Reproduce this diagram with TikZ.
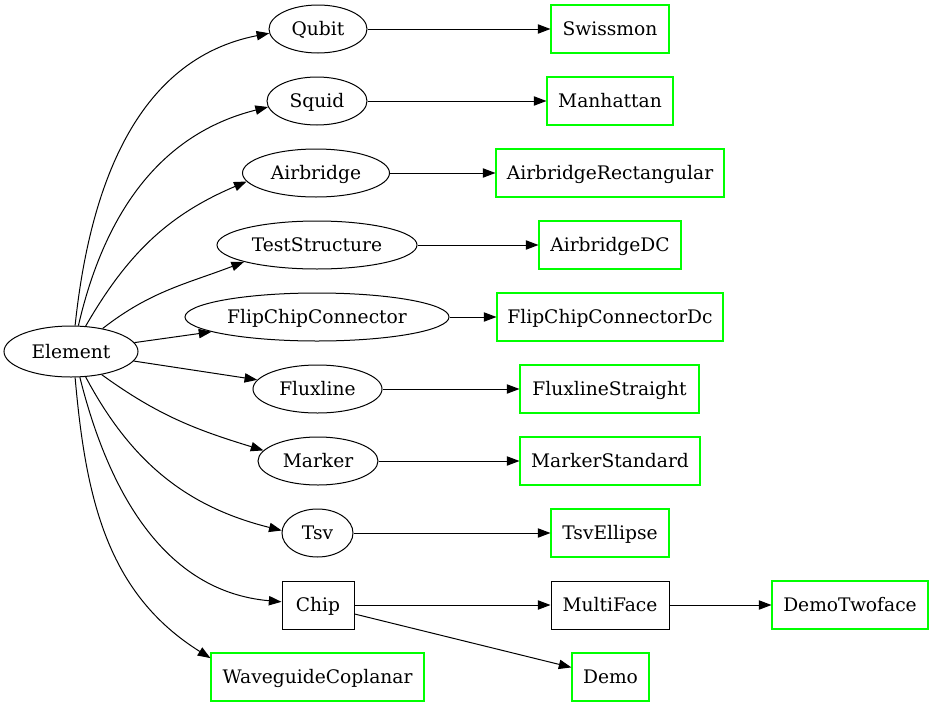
\documentclass[tikz,border=0pt]{standalone}
\usepackage{fontspec}
\setmainfont{DejaVu Serif}
\usetikzlibrary{shapes.geometric, arrows.meta}

\begin{document}
\begin{tikzpicture}[x=0.75pt, y=-0.75pt,
    every node/.style={font=\fontsize{14}{16}\selectfont, text height=11.5pt, text depth=1.5pt, inner sep=0pt},
    elem/.style={ellipse, draw, line width=0.75pt, minimum height=36pt},
    box/.style={rectangle, draw, line width=0.75pt, minimum height=36pt},
    leaf/.style={box, draw=green, line width=0.8pt},
    edge/.style={line width=0.75pt, -{Triangle[length=9.5pt, width=7pt]}}]
    \useasboundingbox (0,0) rectangle (932,707);

    % Root
    \node[elem, minimum width=100.5pt, minimum height=38.25pt] (el) at (71,351.5) {Element};

    % Abstract classes
    \node[elem, minimum width=73.5pt] (qb) at (318,29) {Qubit};
    \node[elem, minimum width=75pt] (sq) at (317,101) {Squid};
    \node[elem, minimum width=110.25pt] (ab) at (316,173) {Airbridge};
    \node[elem, minimum width=150pt] (ts) at (317,245) {TestStructure};
    \node[elem, minimum width=198pt] (fcc) at (317,317) {FlipChipConnector};
    \node[elem, minimum width=96.75pt] (fl) at (317.5,389) {Fluxline};
    \node[elem, minimum width=90pt] (mk) at (318,461) {Marker};
    \node[elem, minimum width=53.25pt] (tsv) at (317.5,533) {Tsv};
    \node[box, minimum width=54pt] (chip) at (318,605) {Chip};
    \node[leaf, minimum width=159.75pt] (wg) at (317.5,677) {WaveguideCoplanar};

    % Concrete elements
    \node[leaf, minimum width=88.5pt] (sw) at (610,29) {Swissmon};
    \node[leaf, minimum width=94.5pt] (mh) at (610,101) {Manhattan};
    \node[leaf, minimum width=171pt] (abr) at (610,173) {AirbridgeRectangular};
    \node[leaf, minimum width=106.5pt] (abdc) at (610,245) {AirbridgeDC};
    \node[leaf, minimum width=169.5pt] (fccd) at (610,317) {FlipChipConnectorDc};
    \node[leaf, minimum width=134.25pt] (fls) at (609.5,389) {FluxlineStraight};
    \node[leaf, minimum width=135pt] (mks) at (610,461) {MarkerStandard};
    \node[leaf, minimum width=88.5pt] (tsve) at (610,533) {TsvEllipse};
    \node[box, minimum width=88.5pt] (mf) at (610,605) {MultiFace};
    \node[leaf, minimum width=57.75pt] (demo) at (610.5,677) {Demo};
    \node[leaf, minimum width=117pt] (dtf) at (850,605) {DemoTwoface};

    % Element to subclasses
    \draw[edge] (el.81) to[out=84, in=191] (qb.185);
    \draw[edge] (el.74) to[out=77, in=194] (sq.187);
    \draw[edge] (el.60) to[out=60, in=203] (ab.187);
    \draw[edge] (el.36) to[out=38, in=201] (ts.193);
    \draw[edge] (el) -- (fcc);
    \draw[edge] (el) -- (fl);
    \draw[edge] (el.-37) to[out=-36, in=163] (mk.169);
    \draw[edge] (el.-60) to[out=-62, in=166] (tsv.176);
    \draw[edge] (el.-71) to[out=-76, in=175] (chip);
    \draw[edge] (el.-81) to[out=-85, in=148] (wg.170);

    % Subclasses to implementations
    \draw[edge] (qb) -- (sw);
    \draw[edge] (sq) -- (mh);
    \draw[edge] (ab) -- (abr);
    \draw[edge] (ts) -- (abdc);
    \draw[edge] (fcc) -- (fccd);
    \draw[edge] (fl) -- (fls);
    \draw[edge] (mk) -- (mks);
    \draw[edge] (tsv) -- (tsve);
    \draw[edge] (chip) -- (mf);
    \draw[edge] (chip) -- (demo);
    \draw[edge] (mf) -- (dtf);
\end{tikzpicture}
\end{document}
